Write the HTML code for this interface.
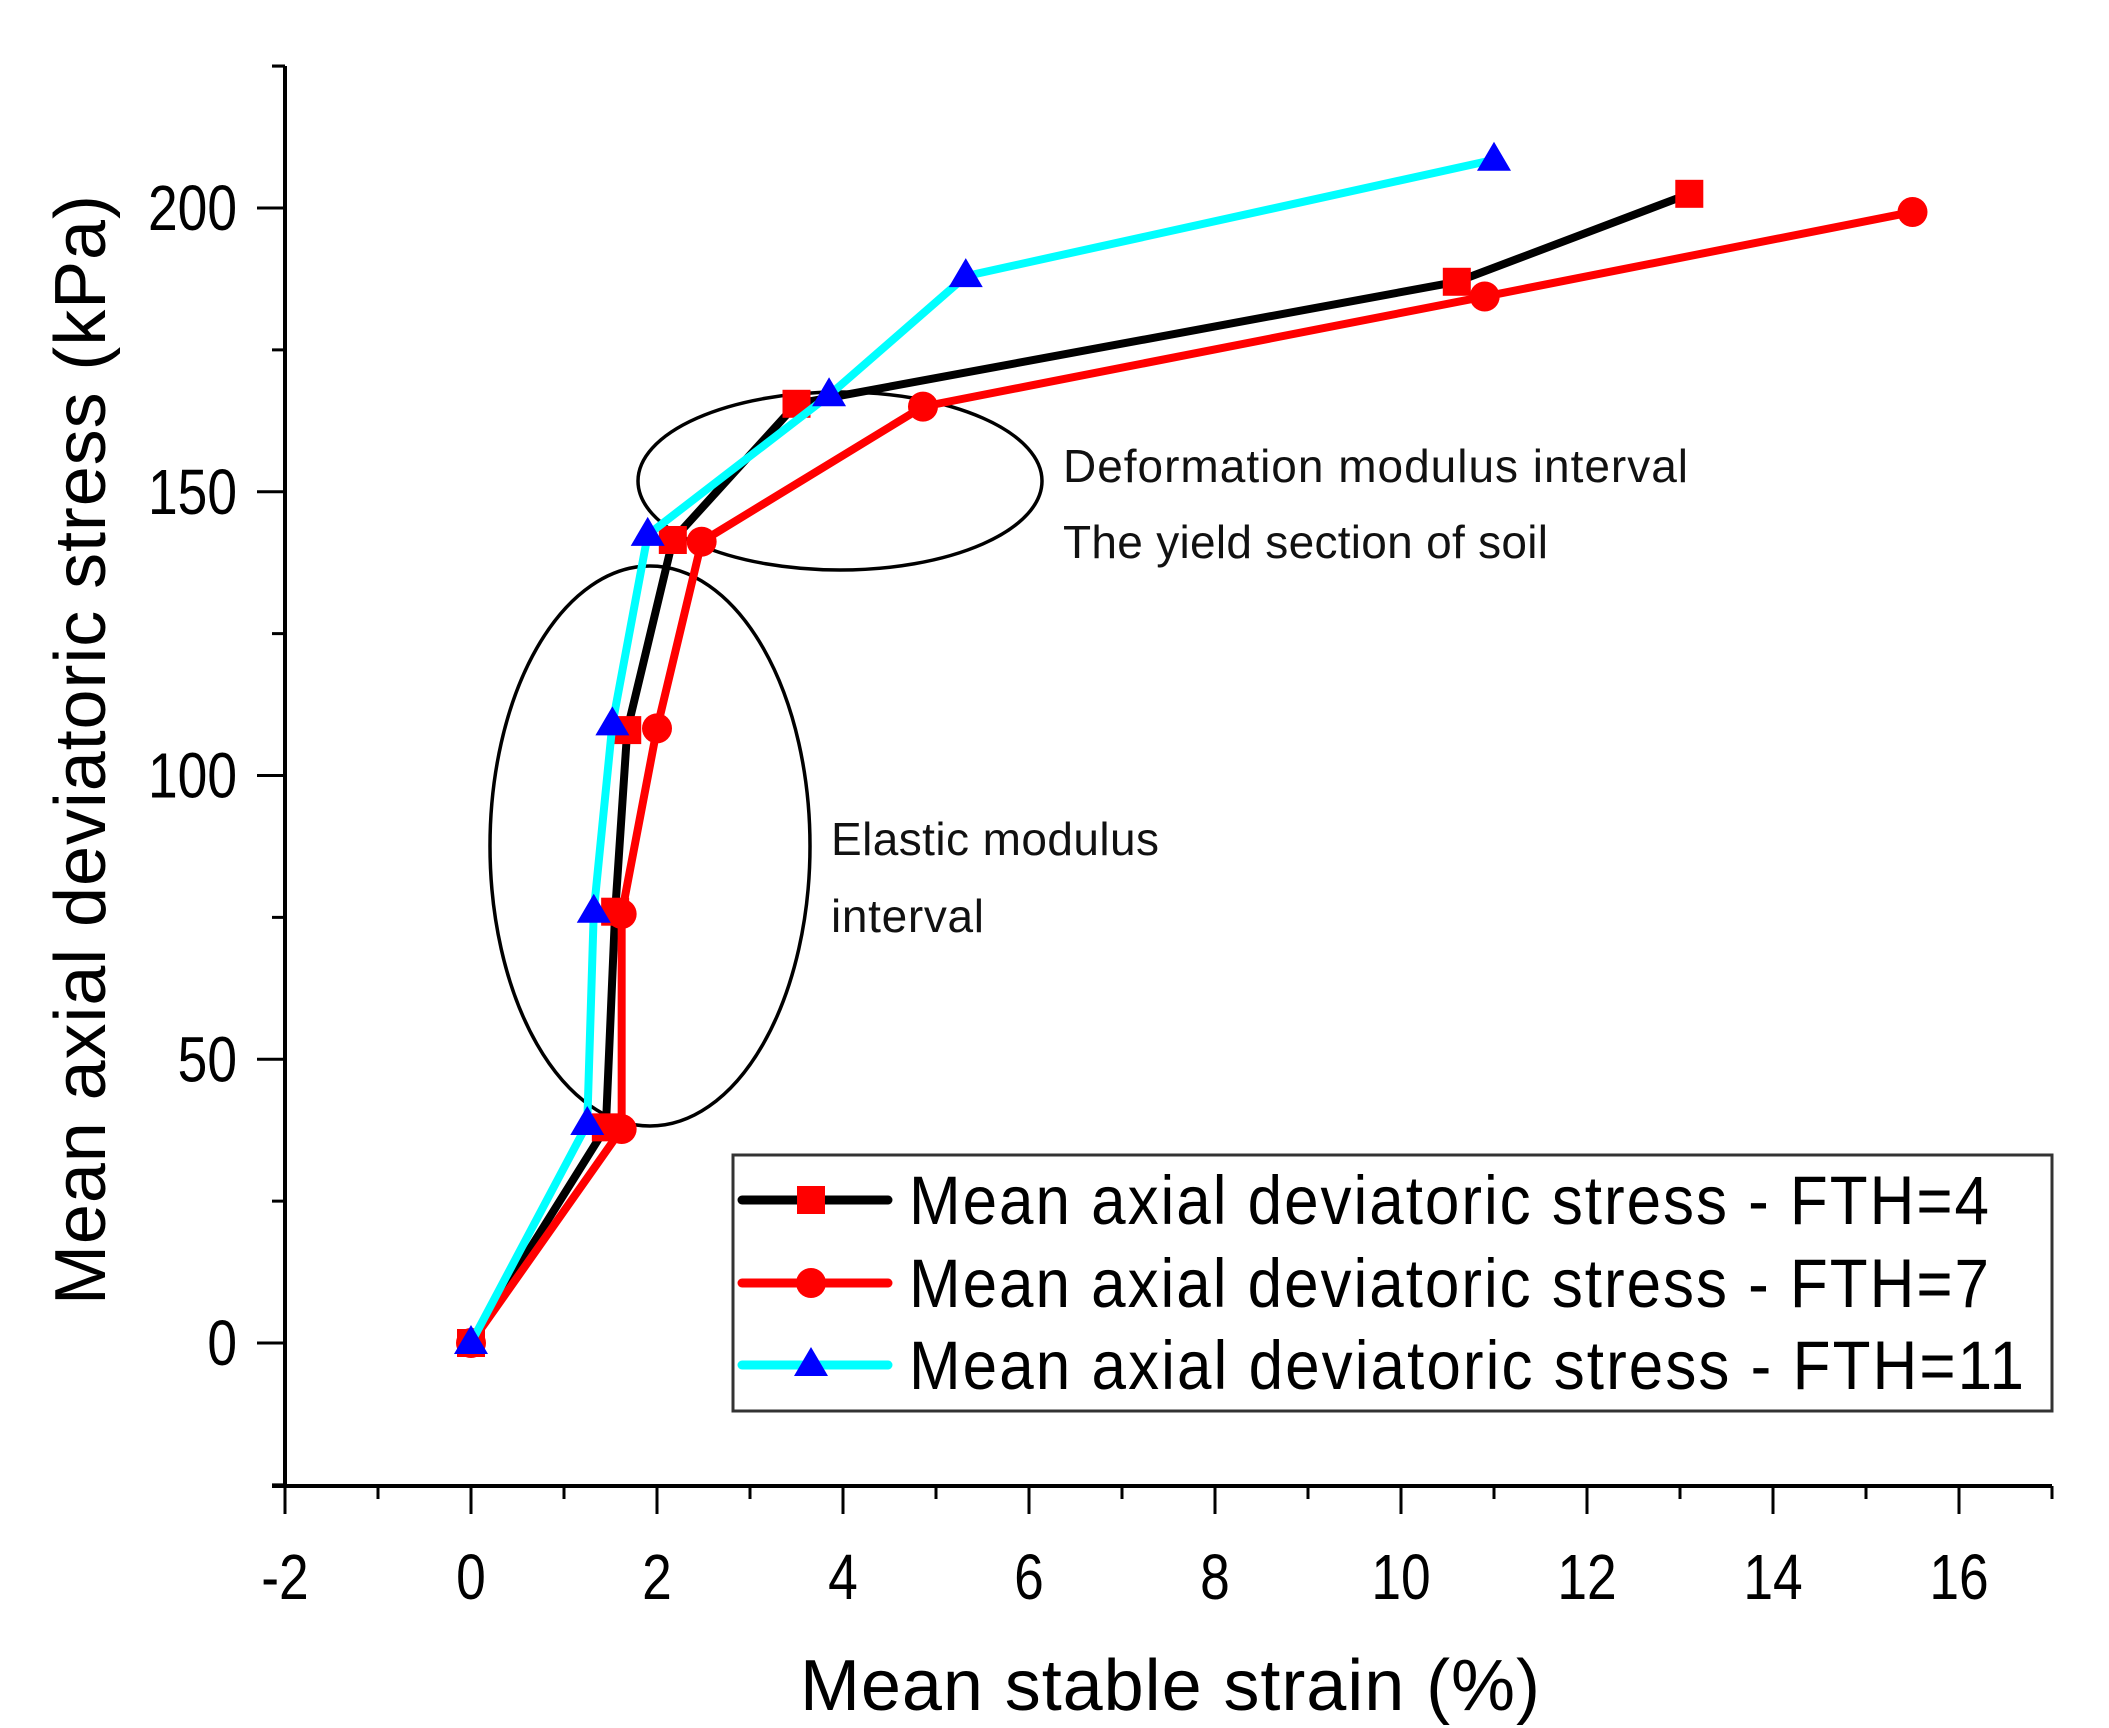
<!DOCTYPE html>
<html><head><meta charset="utf-8"><style>
html,body{margin:0;padding:0;background:#fff;}
svg{display:block;font-family:"Liberation Sans",Arial,sans-serif;}
</style></head><body>
<svg id="chart" width="2109" height="1728" viewBox="0 0 2109 1728" xmlns="http://www.w3.org/2000/svg">
<g id="axes"></g>
<g id="ann">
<ellipse cx="650" cy="846" rx="160" ry="280" fill="none" stroke="#000" stroke-width="3.5"/>
<ellipse cx="840" cy="481" rx="202" ry="89" fill="none" stroke="#000" stroke-width="3.5"/>
<text x="1063" y="482" font-size="46" textLength="625" fill="#111">Deformation modulus interval</text>
<text x="1063" y="558" font-size="46" textLength="485" fill="#111">The yield section of soil</text>
<text x="831" y="855" font-size="46" textLength="328" fill="#111">Elastic modulus</text>
<text x="831" y="932" font-size="46" textLength="153" fill="#111">interval</text>
</g>
<g id="series"></g>
<g id="legend"></g>
</svg>
<script>
const xTicks = [-2,0,2,4,6,8,10,12,14,16];
const yTicks = [0,50,100,150,200];
const fth4X = [0,1.45,1.55,1.68,2.17,3.5,10.6,13.1];
const fth4Y = [0,38,76,108,141.5,165.5,187,202.5];
const fth7X = [0,1.62,1.62,2.0,2.48,4.86,10.9,15.5];
const fth7Y = [0,37.7,75.6,108.3,141.2,165,184.4,199.3];
const fth11X = [0,1.25,1.32,1.52,1.9,3.85,5.32,11.0];
const fth11Y = [0,38.6,76,109,142.4,167,188,208.5];
const legendLabels = ["Mean axial deviatoric stress - FTH=4","Mean axial deviatoric stress - FTH=7","Mean axial deviatoric stress - FTH=11"];

const NS="http://www.w3.org/2000/svg";
const X0=285,X1=2052,Y0=1486,Y1=66;
const sx=v=>471+(v-0)*93;
const sy=v=>1343-v*5.675;
function mk(tag,attrs,parent){const e=document.createElementNS(NS,tag);for(const k in attrs)e.setAttribute(k,attrs[k]);parent.appendChild(e);return e;}
const axes=document.getElementById('axes');
let e;
e=mk('line',{x1:X0,y1:Y1,x2:X0,y2:Y0+2,stroke:'#000','stroke-width':4},axes);


e=mk('line',{x1:272,y1:Y0,x2:X1,y2:Y0,stroke:'#000','stroke-width':4},axes);


mk('line',{x1:272,y1:Y1,x2:X0,y2:Y1,stroke:'#000','stroke-width':3},axes);
for(let v=-2;v<=17;v++){
  const major=(v%2===0);
  const px=sx(v);
  mk('line',{x1:px,y1:Y0,x2:px,y2:Y0+(major?28:13),stroke:'#000','stroke-width':3},axes);
}
xTicks.forEach(v=>{
  e=mk('text',{x:0,y:0,'font-size':58,'text-anchor':'middle',fill:'#000',transform:`translate(${sx(v)},1599) scale(0.92,1.1)`},axes);
  e.textContent=String(v);
  
  
});
for(let v=-25;v<=225;v+=25){
  const major=(v%50===0);
  const py=sy(v);
  mk('line',{x1:X0,y1:py,x2:X0-(major?28:13),y2:py,stroke:'#000','stroke-width':3},axes);
}
yTicks.forEach(v=>{
  e=mk('text',{x:0,y:0,'font-size':58,'text-anchor':'end',fill:'#000',transform:`translate(237,${sy(v)+22}) scale(0.92,1.1)`},axes);
  e.textContent=String(v);
  
  
});
e=mk('text',{x:1170,y:1710,'font-size':72,'text-anchor':'middle',fill:'#000',textLength:740},axes);
e.textContent='Mean stable strain (%)';


e=mk('text',{x:0,y:0,'font-size':72,'text-anchor':'middle',fill:'#000',transform:'translate(105,750) rotate(-90)',textLength:1110},axes);
e.textContent='Mean axial deviatoric stress (kPa)';



function marker(type,cx,cy,parent){
  let m;
  if(type==='sq') m=mk('rect',{x:cx-14,y:cy-14,width:28,height:28,fill:'#f00'},parent);
  else if(type==='ci') m=mk('circle',{cx:cx,cy:cy,r:15,fill:'#f00'},parent);
  else m=mk('polygon',{points:`${cx},${cy-18} ${cx-17},${cy+11} ${cx+17},${cy+11}`,fill:'#00f'},parent);
  return m;
}
const series=document.getElementById('series');
const defs=[[fth4X,fth4Y,'#000','sq','fth4'],[fth7X,fth7Y,'#f00','ci','fth7'],[fth11X,fth11Y,'#0ff','tr','fth11']];
defs.forEach(([xs,ys,col,mt,nm])=>{
  const g=mk('g',{},series);
  
  
  const pts=xs.map((x,i)=>sx(x)+','+sy(ys[i])).join(' ');
  const l=mk('polyline',{points:pts,fill:'none',stroke:col,'stroke-width':8,'stroke-linejoin':'round'},g);
  
  
  xs.forEach((x,i)=>{
    const m=marker(mt,sx(x),sy(ys[i]),g);
    
    
  });
});
const lg=document.getElementById('legend');
e=mk('rect',{x:733,y:1155,width:1319,height:256,fill:'#fff',stroke:'#333','stroke-width':3},lg);


const rowsY=[1200,1283,1365];
defs.forEach(([xs,ys,col,mt,nm],i)=>{
  const g=mk('g',{},lg);
  
  
  mk('line',{x1:742,y1:rowsY[i],x2:888,y2:rowsY[i],stroke:col,'stroke-width':9,'stroke-linecap':'round'},g);
  marker(mt,811,rowsY[i],g);
  const t=mk('text',{x:0,y:0,'font-size':62,fill:'#000',textLength:i===2?1115:1080,transform:`translate(909,${rowsY[i]+24}) scale(1,1.1)`},g);
  t.textContent=legendLabels[i];
});
</script>
</body></html>
